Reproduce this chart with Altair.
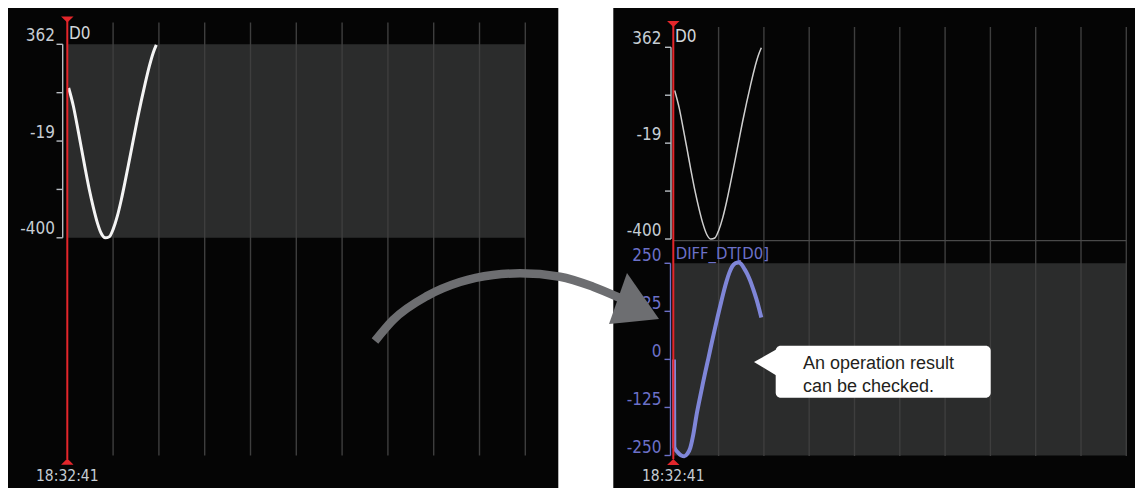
import altair as alt
import pandas as pd

# ---------------- values ----------------
TIME_LABEL = "18:32:41"
SERIES_TOP = "D0"
SERIES_BOTTOM = "DIFF_DT[D0]"
CALLOUT_LINES = ["An operation result", "can be checked."]

# sample time (grid divisions after the cursor) and device value
D0_T = [0.03, 0.131, 0.218, 0.306, 0.393, 0.480, 0.568, 0.655, 0.742, 0.830,
        0.917, 1.004, 1.092, 1.179, 1.266, 1.354, 1.441, 1.528, 1.616, 1.703,
        1.790, 1.878, 1.943]
D0_V = [190, 120, 40, -45, -130, -210, -280, -340, -383, -400,
        -396, -365, -315, -250, -175, -95, -15, 65, 140, 210,
        275, 330, 360]
DIFF_T = [0.015, 0.022, 0.110, 0.177, 0.243, 0.309, 0.375, 0.442, 0.508, 0.574,
          0.640, 0.706, 0.773, 0.839, 0.905, 0.971, 1.038, 1.104, 1.170, 1.236,
          1.302, 1.369, 1.435, 1.501, 1.567, 1.634, 1.700, 1.766, 1.832, 1.898, 1.943]
DIFF_V = [0, -228, -243, -250, -252, -246, -230, -195, -148, -108,
          -70, -33, 2, 38, 73, 107, 140, 172, 201, 225,
          242, 250, 252, 248, 236, 222, 204, 182, 158, 130, 109]

D0_TICKS = [362, 171.5, -19, -209.5, -400]
D0_TICK_LABELS = ["362", "", "-19", "", "-400"]
DIFF_TICKS = [250, 125, 0, -125, -250]
DIFF_TICK_LABELS = ["250", "125", "0", "-125", "-250"]
GRID_DIVS = [1, 2, 3, 4, 5, 6, 7, 8, 9, 10]

# ---------------- layout (page pixels) ----------------
OX, OY = 6, 6
W, H = 1129, 482
BLACK = "#050505"
BAND = "#2b2c2c"
GRID = "#3e3e3e"
RED = "#e4262b"
LIGHT = "#c6cdd4"
PURPLE = "#6c71c8"
LINE_PURPLE = "#7f86d8"
ARROW = "#6d6e71"
FONT = "Liberation Sans Narrow, Arial Narrow, DejaVu Sans Condensed, sans-serif"
FONT_BOX = "Liberation Sans, Arial, Helvetica, sans-serif"


def xs(d0, d1, p0, p1):
    return alt.Scale(domain=[d0, d1], range=[p0 - OX, p1 - OX], nice=False, zero=False)


def ys(d0, d1, p0, p1):
    return alt.Scale(domain=[d0, d1], range=[p0 - OY, p1 - OY], nice=False, zero=False)


CX = xs(OX, OX + W, OX, OX + W)
CY = ys(OY, OY + H, OY, OY + H)
LX = xs(0, 10, 67.3, 525.3)
RX = xs(0, 10, 673.3, 1126.3)
LY = ys(362, -400, 44.3, 237.8)
RY = ys(362, -400, 47.3, 239.0)
RYD = ys(250, -250, 263.3, 455.5)


def X(f, s):
    return alt.X(f"{f}:Q", scale=s, axis=None)


def Y(f, s):
    return alt.Y(f"{f}:Q", scale=s, axis=None)


layers = []

# panel backgrounds
panels = pd.DataFrame({"x0": [6, 613.3], "x1": [558.3, 1143], "y0": [6, 8], "y1": [488, 488]})
layers.append(alt.Chart(panels).mark_rect(color=BLACK).encode(
    x=X("x0", CX), x2="x1:Q", y=Y("y0", CY), y2="y1:Q"))

# grey bands
band_l = pd.DataFrame({"t0": [0], "t1": [10], "v0": [min(D0_TICKS)], "v1": [max(D0_TICKS)]})
layers.append(alt.Chart(band_l).mark_rect(color=BAND).encode(
    x=X("t0", LX), x2="t1:Q", y=Y("v0", LY), y2="v1:Q"))
band_r = pd.DataFrame({"t0": [0], "t1": [10], "v0": [min(DIFF_TICKS)], "v1": [max(DIFF_TICKS)]})
layers.append(alt.Chart(band_r).mark_rect(color=BAND).encode(
    x=X("t0", RX), x2="t1:Q", y=Y("v0", RYD), y2="v1:Q"))

# grid lines
grid_l = pd.DataFrame({"t": GRID_DIVS, "y0": 22.5, "y1": 455.5})
layers.append(alt.Chart(grid_l).mark_rule(color=GRID, strokeWidth=1.4).encode(
    x=X("t", LX), y=Y("y0", CY), y2="y1:Q"))
grid_r = pd.DataFrame({"t": GRID_DIVS, "y0": 27, "y1": 456})
layers.append(alt.Chart(grid_r).mark_rule(color=GRID, strokeWidth=1.4).encode(
    x=X("t", RX), y=Y("y0", CY), y2="y1:Q"))

# separator between the two right-hand graphs
sep = pd.DataFrame({"t0": [0], "t1": [10], "y": [240.7]})
layers.append(alt.Chart(sep).mark_rule(color="#4a4a4a", strokeWidth=1.2).encode(
    x=X("t0", RX), x2="t1:Q", y=Y("y", CY)))

# data curves
d0 = pd.DataFrame({"t": D0_T, "v": D0_V})
diff = pd.DataFrame({"t": DIFF_T, "v": DIFF_V})
layers.append(alt.Chart(d0).mark_line(color="#f4f4f4", strokeWidth=3, interpolate="monotone").encode(
    x=X("t", LX), y=Y("v", LY)))
layers.append(alt.Chart(d0).mark_line(color="#cfcfcf", strokeWidth=1.5, interpolate="monotone").encode(
    x=X("t", RX), y=Y("v", RY)))
layers.append(alt.Chart(diff).mark_line(color=LINE_PURPLE, strokeWidth=4, interpolate="monotone").encode(
    x=X("t", RX), y=Y("v", RYD)))


# value brackets (axes)
def bracket(values, labels, scale, bx, tick_left, label_right, color, label_color, dy):
    out = []
    dv = pd.DataFrame({"bx": [bx], "vmax": [max(values)], "vmin": [min(values)]})
    out.append(alt.Chart(dv).mark_rule(color=color, strokeWidth=1.4).encode(
        x=X("bx", CX), y=Y("vmax", scale), y2="vmin:Q"))
    dt = pd.DataFrame({"x0": tick_left, "x1": bx, "v": values, "lab": labels, "lx": label_right})
    out.append(alt.Chart(dt).mark_rule(color=color, strokeWidth=1.4).encode(
        x=X("x0", CX), x2="x1:Q", y=Y("v", scale)))
    out.append(alt.Chart(dt).mark_text(align="right", baseline="alphabetic", dy=dy, font=FONT,
                                       fontSize=17, color=label_color).encode(
        x=X("lx", CX), y=Y("v", scale), text="lab:N"))
    return out


layers += bracket(D0_TICKS, D0_TICK_LABELS, LY, 62.7, 56.5, 55, "#b8bdc3", LIGHT, -3.5)
layers += bracket(D0_TICKS, D0_TICK_LABELS, RY, 671, 665, 661.5, "#b8bdc3", LIGHT, -3.5)
layers += bracket(DIFF_TICKS, DIFF_TICK_LABELS, RYD, 670.5, 664.5, 661.5, PURPLE, PURPLE, -2.5)

# series names
names = pd.DataFrame({"x": [69, 675], "y": [38.5, 41.7], "s": [SERIES_TOP, SERIES_TOP]})
layers.append(alt.Chart(names).mark_text(align="left", baseline="alphabetic", font=FONT,
                                         fontSize=17, color="#d2d6da").encode(
    x=X("x", CX), y=Y("y", CY), text="s:N"))
name_b = pd.DataFrame({"x": [675.7], "y": [259.3], "s": [SERIES_BOTTOM]})
layers.append(alt.Chart(name_b).mark_text(align="left", baseline="alphabetic", font=FONT,
                                          fontSize=16.5, color=PURPLE).encode(
    x=X("x", CX), y=Y("y", CY), text="s:N"))

# cursor lines and markers
for sx_, y0, y1, ytop, ybot in [(LX, 17, 459, 19.5, 461.7), (RX, 22, 459, 24.0, 462.0)]:
    cur = pd.DataFrame({"t": [0], "y0": [y0], "y1": [y1]})
    layers.append(alt.Chart(cur).mark_rule(color=RED, strokeWidth=2).encode(
        x=X("t", sx_), y=Y("y0", CY), y2="y1:Q"))
    tri_d = pd.DataFrame({"t": [0], "y": [ytop]})
    layers.append(alt.Chart(tri_d).mark_point(shape="M-1,-0.5L1,-0.5L0,0.5Z", filled=True,
                                              size=156, color=RED, opacity=1, strokeWidth=0).encode(
        x=X("t", sx_), y=Y("y", CY)))
    tri_u = pd.DataFrame({"t": [0], "y": [ybot]})
    layers.append(alt.Chart(tri_u).mark_point(shape="M-1,0.5L1,0.5L0,-0.5Z", filled=True,
                                              size=156, color=RED, opacity=1, strokeWidth=0).encode(
        x=X("t", sx_), y=Y("y", CY)))
    tl = pd.DataFrame({"t": [0], "y": [480.5], "s": [TIME_LABEL]})
    layers.append(alt.Chart(tl).mark_text(align="center", baseline="alphabetic", font=FONT,
                                          fontSize=15.5, color=LIGHT).encode(
        x=X("t", sx_), y=Y("y", CY), text="s:N"))

# callout
box = pd.DataFrame({"x0": [775.7], "x1": [990.7], "y0": [345.7], "y1": [397.7]})
layers.append(alt.Chart(box).mark_rect(color="white", cornerRadius=5).encode(
    x=X("x0", CX), x2="x1:Q", y=Y("y0", CY), y2="y1:Q"))
ptr = pd.DataFrame({"x": [754, 778], "yt": [362, 348.5], "yb": [362, 376.5]})
layers.append(alt.Chart(ptr).mark_area(color="white").encode(
    x=X("x", CX), y=Y("yt", CY), y2="yb:Q"))
ct = pd.DataFrame({"x": [803, 803], "y": [369.3, 391.7], "s": CALLOUT_LINES})
layers.append(alt.Chart(ct).mark_text(align="left", baseline="alphabetic", font=FONT_BOX,
                                      fontSize=18, color="#231f20").encode(
    x=X("x", CX), y=Y("y", CY), text="s:N"))

# curved arrow
ARROW_X = [375, 393, 427, 460, 493, 520, 560, 593, 620]
ARROW_Y = [341, 320, 296, 282, 275, 273.3, 276.7, 286.7, 298]
arr = pd.DataFrame({"x": ARROW_X, "y": ARROW_Y})
layers.append(alt.Chart(arr).mark_line(color=ARROW, strokeWidth=8.5, interpolate="monotone").encode(
    x=X("x", CX), y=Y("y", CY)))
HEAD_X = [609, 627, 659]
HEAD_YT = [324, 273, 319]
HEAD_YB = [324, 322.2, 319]
head = pd.DataFrame({"x": HEAD_X, "yt": HEAD_YT, "yb": HEAD_YB})
layers.append(alt.Chart(head).mark_area(color=ARROW).encode(
    x=X("x", CX), y=Y("yt", CY), y2="yb:Q"))

chart = alt.layer(*layers).resolve_scale(x="independent", y="independent").properties(
    width=W, height=H, autosize="none",
    padding={"left": -2, "top": -2, "right": 0, "bottom": 0},
    background="white",
).configure_view(stroke=None)

chart.save("out.html", embed_options={"renderer": "svg", "actions": False})
